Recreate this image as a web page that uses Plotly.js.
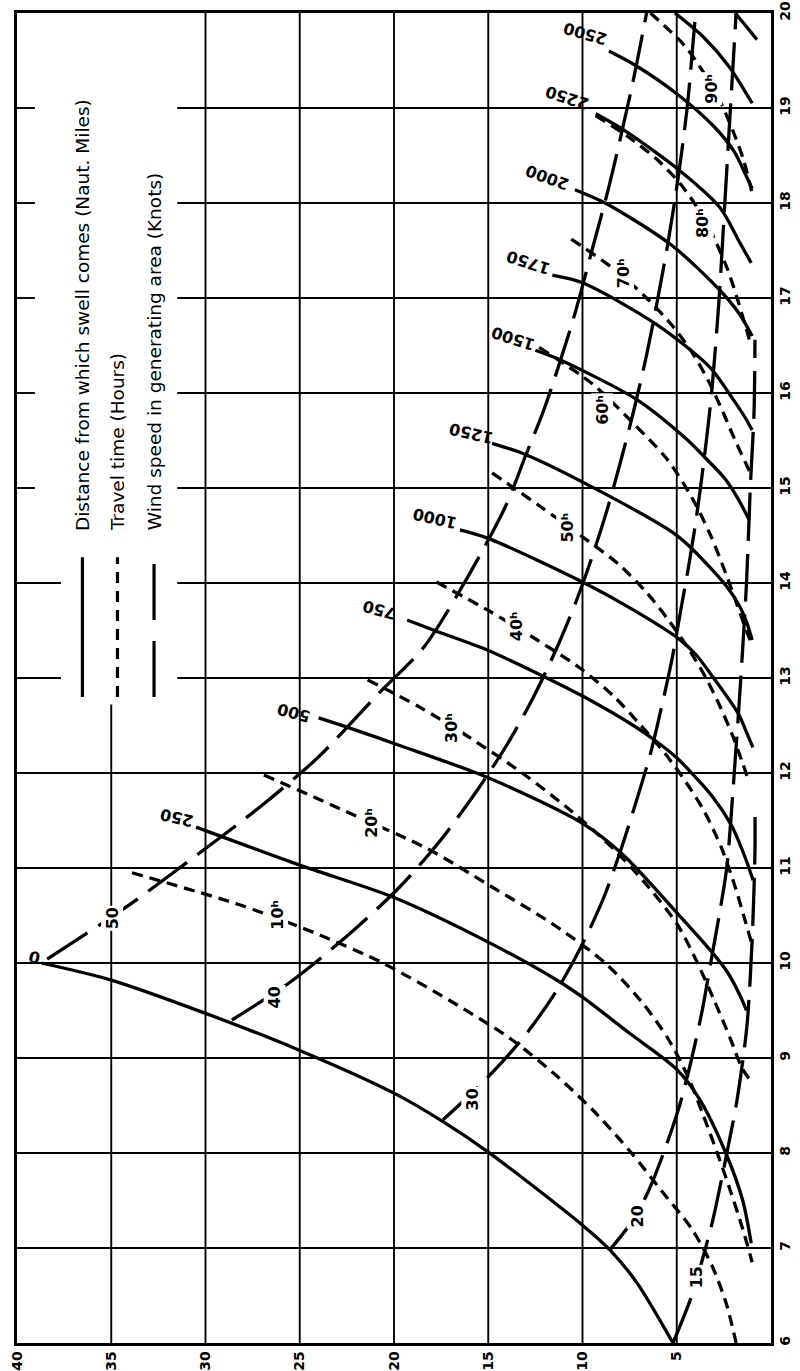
<!DOCTYPE html>
<html><head><meta charset="utf-8">
<script src="https://cdn.plot.ly/plotly-3.0.1.min.js"></script>
<style>html,body{margin:0;padding:0;background:#fff}#chart{width:800px;height:1371px}</style>
</head><body><div id="chart"></div>
<script>
// ---- tick values ----
const heightTicks = [5, 10, 15, 20, 25, 30, 35, 40];
const periodTicks = [6, 7, 8, 9, 10, 11, 12, 13, 14, 15, 16, 17, 18, 19, 20];

// ---- distance curves: [period (s), height] ----
const dist0 = [[10.0,38.7],[9.82,35.0],[9.47,30.0],[9.08,25.0],[8.63,20.0],[8.33,17.4],[8.01,15.0],[7.24,10.0],[6.98,8.55],[6.63,7.1],[6.06,5.37],[6.0,5.2]];
const dist250 = [[11.43,30.5],[11.03,25.0],[10.69,20.0],[10.22,15.0],[9.8,11.2],[9.64,10.0],[9.26,7.5],[8.88,5.0],[8.56,3.77],[8.0,2.4],[7.5,1.5],[7.05,1.05]];
const dist500 = [[12.58,24.0],[12.47,22.3],[12.29,19.7],[11.95,15.0],[11.47,10.0],[11.14,7.85],[10.53,5.0],[10.13,3.2],[9.9,2.3],[9.64,1.6],[9.5,1.3]];
const dist750 = [[13.61,19.3],[13.5,17.85],[13.29,15.0],[13.04,12.3],[12.81,10.0],[12.5,7.3],[12.35,6.2],[12.16,5.0],[11.75,3.1],[11.45,2.1],[11.1,1.35],[10.87,0.95]];
const dist1000 = [[14.56,16.5],[14.47,15.0],[14.01,10.0],[13.72,7.33],[13.42,4.94],[13.25,4.0],[13.01,3.08],[12.63,1.75],[12.42,1.28],[12.27,0.96]];
const dist1250 = [[15.47,14.8],[15.35,13.0],[14.98,9.2],[14.53,5.2],[14.35,4.14],[13.96,2.34],[13.75,1.65],[13.58,1.28],[13.4,1.0]];
const dist1500 = [[16.45,12.5],[16.35,11.2],[15.93,7.12],[15.51,4.46],[15.3,3.4],[15.1,2.45],[14.87,1.7],[14.66,1.15]];
const dist1750 = [[17.24,11.6],[17.16,10.0],[16.72,6.06],[16.27,3.24],[15.93,2.0],[15.75,1.4],[15.61,1.0]];
const dist2000 = [[18.14,10.4],[18.0,8.8],[17.56,5.3],[17.1,2.8],[16.84,1.7],[16.6,1.0]];
const dist2250 = [[18.94,9.3],[18.78,7.9],[18.35,4.9],[17.95,2.7],[17.58,1.65],[17.37,1.05]];
const dist2500 = [[19.6,8.6],[19.45,7.2],[19.15,5.0],[18.8,3.0],[18.54,1.95],[18.3,1.35],[18.15,1.0]];
const dist2750 = [[20.0,5.1],[19.75,3.6],[19.43,2.2],[19.05,1.0]];
const dist3000 = [[20.0,1.9],[19.72,0.74]];
const distanceLabels = ['0','250','500','750','1000','1250','1500','1750','2000','2250','2500'];

// ---- travel time curves: [period, height] ----
const time10 = [[10.95,33.9],[10.6,28.0],[10.3,24.0],[10.0,20.6],[9.6,17.0],[9.2,13.8],[8.8,11.3],[8.4,9.2],[8.0,7.4],[7.6,5.8],[7.2,4.2],[6.8,3.1],[6.4,2.35],[6.0,1.85]];
const time20 = [[11.98,26.9],[11.6,22.6],[11.2,18.2],[10.8,14.8],[10.4,11.5],[10.0,8.8],[9.6,6.9],[9.2,5.45],[8.8,4.4],[8.4,3.6],[8.0,2.85],[7.6,2.15],[7.2,1.5],[6.85,1.0]];
const time30 = [[12.98,21.4],[12.7,18.7],[12.4,16.2],[12.0,13.2],[11.6,10.6],[11.2,8.35],[10.8,6.5],[10.4,4.95],[10.0,3.9],[9.6,3.0],[9.2,2.15],[8.9,1.55],[8.75,1.05]];
const time40 = [[14.01,17.75],[13.7,14.9],[13.4,12.4],[13.1,10.1],[12.8,8.3],[12.5,6.9],[12.2,5.6],[11.9,4.5],[11.6,3.55],[11.2,2.6],[10.8,1.9],[10.5,1.45],[10.19,1.0]];
const time50 = [[15.16,14.8],[14.8,12.2],[14.5,10.1],[14.2,8.1],[13.9,6.6],[13.6,5.4],[13.3,4.35],[13.0,3.45],[12.7,2.7],[12.4,2.05],[12.1,1.5],[11.9,1.15]];
const time60 = [[16.48,12.3],[16.1,9.5],[15.7,7.4],[15.3,5.5],[14.9,4.2],[14.5,3.2],[14.1,2.4],[13.8,1.85],[13.55,1.4],[13.37,1.05]];
const time70 = [[17.62,10.6],[17.3,8.3],[17.0,6.6],[16.7,5.2],[16.4,4.1],[16.1,3.25],[15.8,2.55],[15.5,1.9],[15.14,1.05]];
const time80 = [[18.92,9.3],[18.7,7.6],[18.45,6.0],[18.2,4.8],[17.9,3.75],[17.6,2.95],[17.3,2.3],[17.0,1.8],[16.75,1.42],[16.53,1.1]];
const time90 = [[20.0,6.4],[19.66,4.6],[19.35,3.5],[19.05,2.65],[18.75,2.0],[18.45,1.45],[18.1,1.0]];
const timeLabels = ['10ʰ','20ʰ','30ʰ','40ʰ','50ʰ','60ʰ','70ʰ','80ʰ','90ʰ'];

// ---- wind speed curves: [period, height] ----
const wind50 = [[10.04,38.4],[10.59,34.2],[11.16,30.3],[11.66,27.0],[12.17,24.0],[12.82,20.9],[13.33,18.4],[14.06,16.1],[14.8,14.1],[15.35,13.0],[15.85,12.0],[16.77,10.5],[17.5,9.5],[18.21,8.55],[19.27,7.33],[20.0,6.6]];
const wind40 = [[9.4,28.6],[9.8,25.5],[10.3,22.4],[10.8,19.7],[11.3,17.5],[11.8,15.65],[12.3,14.0],[12.8,12.6],[13.3,11.4],[13.8,10.35],[14.3,9.45],[14.8,8.65],[15.3,7.95],[15.8,7.3],[16.4,6.6],[17.0,6.0],[17.6,5.45],[18.3,4.9],[19.0,4.45],[20.0,4.0]];
const wind30 = [[8.35,17.4],[8.7,15.5],[9.2,13.2],[9.7,11.4],[10.2,10.0],[10.7,8.85],[11.2,7.95],[11.7,7.15],[12.2,6.4],[12.7,5.8],[13.2,5.25],[13.7,4.8],[14.2,4.35],[14.7,3.95],[15.3,3.55],[16.0,3.15],[17.0,2.75],[18.0,2.45],[19.0,2.15],[20.0,1.85]];
const wind20 = [[6.98,8.55],[7.3,7.3],[7.6,6.5],[8.0,5.7],[8.5,4.85],[9.0,4.2],[9.5,3.65],[10.0,3.2],[10.5,2.75],[11.0,2.35],[12.0,1.95],[13.0,1.6],[14.0,1.3],[15.0,1.1],[15.8,0.9],[16.56,0.85]];
const wind15 = [[6.0,5.2],[6.5,4.2],[6.98,3.5],[7.3,3.08],[8.0,2.34],[8.56,1.8],[9.33,1.28],[10.24,1.0],[11.19,0.85],[11.6,0.85]];
const windLabels = ['15','20','30','40','50'];

// ---- legend texts ----
const legendTexts = ['Distance from which swell comes (Naut. Miles)', 'Travel time (Hours)', 'Wind speed in generating area (Knots)'];

// ================= build =================
const SOLID = 'solid', SHORT = '11px,7px', LONG = '48px,13px';
function curve(pts, dash) {
  return {
    type: 'scatter', mode: 'lines',
    x: pts.map(p => p[1]), y: pts.map(p => p[0]),
    line: {color: '#000', width: 3.3, dash: dash, shape: 'spline', smoothing: 0.8},
    hoverinfo: 'skip', showlegend: false
  };
}
const traces = [];
[dist0,dist250,dist500,dist750,dist1000,dist1250,dist1500,dist1750,dist2000,dist2250,dist2500,dist2750,dist3000].forEach(c => traces.push(curve(c, SOLID)));
[time10,time20,time30,time40,time50,time60,time70,time80,time90].forEach(c => traces.push(curve(c, SHORT)));
[wind50,wind40,wind30,wind20,wind15].forEach(c => traces.push(curve(c, LONG)));

// legend sample lines
const legendH = [36.53, 34.67, 32.73];
const legendDash = [SOLID, '11px,8px', '56px,21px'];
legendH.forEach((h, i) => traces.push({
  type: 'scatter', mode: 'lines', x: [h, h], y: [12.8, 14.27],
  line: {color: '#000', width: 3.2, dash: legendDash[i]}, hoverinfo: 'skip', showlegend: false
}));

const labFont = {family: 'DejaVu Sans', size: 16, weight: 'bold', color: '#000'};
const annotations = [];
// distance labels (upside-down along curves)
const distLabelPlace = [[10.06,39.1,195],[11.53,31.5,193],[12.63,25.3,195],[13.72,20.8,195],[14.68,17.85,193],[15.58,15.9,193],[16.58,13.7,198],[17.38,12.9,198],[18.27,11.9,200],[19.11,10.84,198],[19.79,9.88,196]];
distanceLabels.forEach((t, i) => {
  const p = distLabelPlace[i];
  annotations.push({x: p[1], y: p[0], xref: 'x', yref: 'y', text: t, showarrow: false, textangle: p[2], font: labFont});
});
// travel-time labels
const timeLabelPlace = [[10.51,26.2],[11.48,21.2],[12.48,16.95],[13.54,13.5],[14.58,10.79],[15.82,8.98],[17.26,7.86],[17.79,3.6],[19.2,3.2]];
timeLabels.forEach((t, i) => {
  const p = timeLabelPlace[i];
  annotations.push({x: p[1], y: p[0], xref: 'x', yref: 'y', text: t, showarrow: false, textangle: -90, font: labFont, bgcolor: '#fff', borderpad: 1});
});
// wind labels
const windLabelPlace = [[6.69,3.93],[7.33,7.07],[8.56,15.83],[9.64,26.35],[10.47,34.96]];
windLabels.forEach((t, i) => {
  const p = windLabelPlace[i];
  annotations.push({x: p[1], y: p[0], xref: 'x', yref: 'y', text: t, showarrow: false, textangle: -90, font: labFont, bgcolor: '#fff', borderpad: 1});
});
// legend texts
legendTexts.forEach((t, i) => {
  annotations.push({x: legendH[i], y: 14.53, xref: 'x', yref: 'y', text: t, showarrow: false, textangle: -90,
    xanchor: 'center', yanchor: 'bottom', font: {family: 'DejaVu Sans', size: 18.5, color: '#000'}});
});

// grid lines as shapes (leave the legend box open)
const shapes = [];
const gl = {color: '#000', width: 1.9};
heightTicks.filter(h => h < 40).forEach(h => {
  shapes.push({type: 'line', xref: 'x', yref: 'y', x0: h, x1: h, y0: 6, y1: h === 35 ? 12.72 : 20, line: gl, layer: 'below'});
});
periodTicks.filter(t => t > 6 && t < 20).forEach(t => {
  if (t <= 12) {
    shapes.push({type: 'line', xref: 'x', yref: 'y', x0: 40, x1: 0, y0: t, y1: t, line: gl, layer: 'below'});
  } else {
    shapes.push({type: 'line', xref: 'x', yref: 'y', x0: 31.5, x1: 0, y0: t, y1: t, line: gl, layer: 'below'});
    shapes.push({type: 'line', xref: 'x', yref: 'y', x0: 40, x1: t <= 14 ? 37.67 : 39.05, y0: t, y1: t, line: gl, layer: 'below'});
  }
});

const tickFont = {family: 'DejaVu Sans', size: 14, weight: 'bold', color: '#000'};
const layout = {
  width: 800, height: 1371,
  margin: {l: 17, r: 29, t: 13, b: 28, pad: 0},
  paper_bgcolor: '#fff', plot_bgcolor: '#fff',
  showlegend: false,
  xaxis: {range: [40, 0], tickvals: heightTicks, ticktext: heightTicks.map(String), tickangle: -90,
    showgrid: false, zeroline: false, showline: true, mirror: true, linecolor: '#000', linewidth: 2.6,
    ticks: '', tickfont: tickFont, fixedrange: true},
  yaxis: {range: [6, 20], side: 'right', tickvals: periodTicks, ticktext: periodTicks.map(String), tickangle: -90,
    showgrid: false, zeroline: false, showline: true, mirror: true, linecolor: '#000', linewidth: 2.6,
    ticks: '', tickfont: tickFont, fixedrange: true},
  shapes: shapes,
  annotations: annotations
};
Plotly.newPlot('chart', traces, layout, {displayModeBar: false, staticPlot: true});
</script></body></html>
